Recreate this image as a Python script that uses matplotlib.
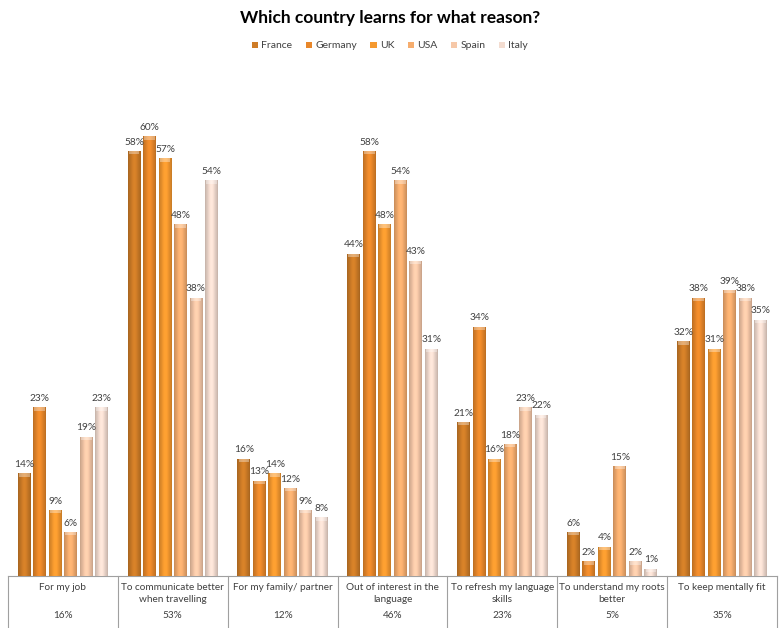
import matplotlib
matplotlib.use("Agg")
import matplotlib.pyplot as plt
import numpy as np
from matplotlib.colors import to_rgb
from matplotlib.transforms import blended_transform_factory
from matplotlib.patches import Patch

plt.rcParams['font.family'] = ['Lato', 'DejaVu Sans']

categories = ["For my job", "To communicate better\nwhen travelling", "For my family/ partner",
              "Out of interest in the\nlanguage", "To refresh my language\nskills",
              "To understand my roots\nbetter", "To keep mentally fit"]
totals = ["16%", "53%", "12%", "46%", "23%", "5%", "35%"]
series_names = ["France", "Germany", "UK", "USA", "Spain", "Italy"]
France = [14, 58, 16, 44, 21, 6, 32]
Germany = [23, 60, 13, 58, 34, 2, 38]
UK = [9, 57, 14, 48, 16, 4, 31]
USA = [6, 48, 12, 54, 18, 15, 39]
Spain = [19, 38, 9, 43, 23, 2, 38]
Italy = [23, 54, 8, 31, 22, 1, 35]
series = [France, Germany, UK, USA, Spain, Italy]
colors = ["#CE7C27", "#E8872A", "#F5992F", "#F6AD6E", "#F6C8A8", "#F3DCD0"]

fig = plt.figure(figsize=(7.8, 6.28), dpi=100)
ax = fig.add_axes([8/780, 52/628, 769/780, 513/628])
ax.set_xlim(-0.5, 6.5)
ax.set_ylim(0, 70)

pitch = 0.141
width = 0.118
x = np.arange(len(categories))

def shade(c):
    base = np.array(to_rgb(c))
    t = np.linspace(-1, 1, 32)
    f = 0.86 + 0.2 * np.cos(t * np.pi / 2) ** 2
    f[0] = f[-1] = 0.78
    cols = np.clip(base[None, :] * f[:, None], 0, 1)
    return cols[None, :, :]

for i, (vals, c) in enumerate(zip(series, colors)):
    xs = x + (i - 2.5) * pitch
    bars = ax.bar(xs, vals, width=width, color=c, edgecolor='none', zorder=2)
    img = shade(c)
    for b, v in zip(bars, vals):
        x0 = b.get_x()
        im = ax.imshow(img, extent=[x0, x0 + width, 0, v], aspect='auto',
                       interpolation='bilinear', zorder=3)
        im.set_clip_path(b)
        ax.fill_between([x0 + 0.01, x0 + width - 0.01], v - 0.45, v,
                        color='white', alpha=0.35, lw=0, zorder=4)
        ax.text(b.get_x() + width / 2, v + 0.6, f"{v}%", ha='center', va='bottom',
                fontsize=7.3, color='#404040', zorder=5)

ax.set_xlim(-0.5, 6.5)
ax.set_ylim(0, 70)
ax.set_xticks([])
ax.set_yticks([])
for s in ['top', 'right', 'left']:
    ax.spines[s].set_visible(False)
ax.spines['bottom'].set_color('#A0A0A0')
ax.spines['bottom'].set_linewidth(0.8)

# table
tr = blended_transform_factory(ax.transData, fig.transFigure)
for k in range(len(categories) + 1):
    ax.plot([k - 0.5, k - 0.5], [0, 52/628], transform=tr, color='#A0A0A0',
            lw=0.8, clip_on=False)
for k, (cat, tot) in enumerate(zip(categories, totals)):
    ax.text(k, 1 - 583/628, cat, transform=tr, ha='center', va='top',
            fontsize=7.2, color='#404040', linespacing=1.4)
    ax.text(k, 1 - 616/628, tot, transform=tr, ha='center', va='center',
            fontsize=7.2, color='#404040')

fig.text(0.5, 1 - 18/628, "Which country learns for what reason?", ha='center',
         va='center', fontsize=12.5, fontweight='bold', color='#000000')

handles = [Patch(facecolor=c, edgecolor='none') for c in colors]
fig.legend(handles, series_names, loc='center', bbox_to_anchor=(0.5, 1 - 46/628),
           ncol=6, frameon=False, fontsize=7.5, handlelength=0.6, handleheight=0.6,
           handletextpad=0.3, columnspacing=1.3, labelcolor='#404040')

fig.savefig("out.png", dpi=100)
